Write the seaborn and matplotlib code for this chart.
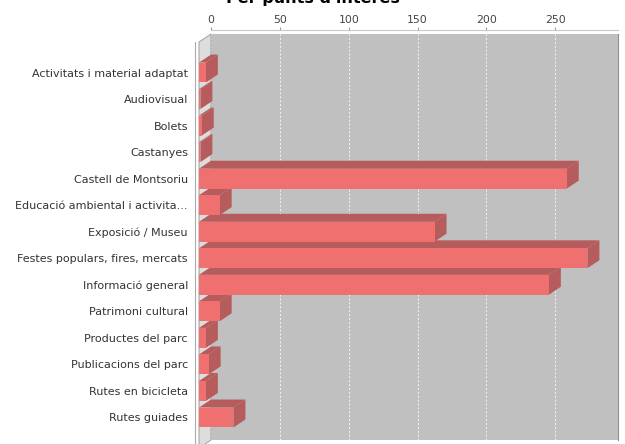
"""
Per punts d'interes - 3D style horizontal bar chart
"""

import numpy as np
import matplotlib
matplotlib.use('Agg')
import matplotlib.pyplot as plt
from matplotlib.patches import Polygon
from matplotlib.transforms import IdentityTransform
import seaborn as sns

sns.set_style("white")
plt.rcParams['font.family'] = ['DejaVu Sans']

# data
categories = [
    'Activitats i material adaptat',
    'Audiovisual',
    'Bolets',
    'Castanyes',
    'Castell de Montsoriu',
    'Educació ambiental i activita...',
    'Exposició / Museu',
    'Festes populars, fires, mercats',
    'Informació general',
    'Patrimoni cultural',
    'Productes del parc',
    'Publicacions del parc',
    'Rutes en bicicleta',
    'Rutes guiades',
]
counts = [5, 1, 2, 1, 267, 15, 171, 282, 254, 15, 5, 7, 5, 25]
x_ticks = [0, 50, 100, 150, 200, 250]
x_max = 295.5

title = "Per punts d'interès"

front_col = '#F07070'
dark_col = '#B65C5C'
wall_col = '#C0C0C0'
side_wall_col = '#DDDDDD'

DX, DY = 12, 8  # 3D depth in pixels

W, H = 625, 444
fig = plt.figure(figsize=(W / 100, H / 100), dpi=100)

# front plane (bars) and back plane (wall + axis)
f_left, f_right, f_top, f_bot = 199, 606, 42, 448
fpos = [f_left / W, (H - f_bot) / H, (f_right - f_left) / W, (f_bot - f_top) / H]
bpos = [(f_left + DX) / W, (H - f_bot + DY) / H, fpos[2], fpos[3]]

ax_back = fig.add_axes(bpos)
ax_back.set_facecolor(wall_col)
ax_back.set_xlim(0, x_max)
ax_back.set_ylim(0, 1)
ax_back.set_xticks(x_ticks)
ax_back.set_yticks([])
ax_back.xaxis.tick_top()
ax_back.tick_params(axis='x', length=2, pad=1.5, color='#999999',
                    labelsize=7.8, labelcolor='#444444')
ax_back.grid(axis='x', color='#F4F4F4', linestyle=(0, (2, 2)), linewidth=0.7)
for s in ['left', 'bottom']:
    ax_back.spines[s].set_visible(False)
ax_back.spines['top'].set_color('#C8C8C8')
ax_back.spines['top'].set_position(('outward', 3))
ax_back.spines['right'].set_color('#909090')

ax = fig.add_axes(fpos)
ax.patch.set_alpha(0)
sns.barplot(x=counts, y=categories, orient='h', color=front_col,
            saturation=1, width=0.75, linewidth=0, edgecolor='none', ax=ax)
ax.set_xlim(0, x_max)
ax.set_ylim(len(categories) - 1 + 1.15, -1.15)
ax.set_xticks([])
ax.set_xlabel('')
ax.set_ylabel('')
ax.tick_params(axis='y', length=3, pad=2, color='#999999',
               labelsize=8.0, labelcolor='#333333')
for s in ['top', 'right', 'bottom']:
    ax.spines[s].set_visible(False)
ax.spines['left'].set_position(('outward', 3))
ax.spines['left'].set_color('#AAAAAA')

# left side wall
ft = ax.transAxes.transform((0, 1))
fb = ax.transAxes.transform((0, 0))
wall = Polygon([ft, ft + [DX, DY], fb + [DX, DY], fb], closed=True,
               facecolor=side_wall_col, edgecolor='#A8A8A8', linewidth=0.8,
               transform=IdentityTransform(), clip_on=False, zorder=0.5)
ax.add_patch(wall)

# top and side faces of each bar
for bar in list(ax.patches):
    if bar is wall:
        continue
    x0, y0 = bar.get_x(), bar.get_y()
    w, h = bar.get_width(), bar.get_height()
    (px0, py_top) = ax.transData.transform((x0, y0))
    (px1, py_bot) = ax.transData.transform((x0 + w, y0 + h))
    top_y = max(py_top, py_bot)
    bot_y = min(py_top, py_bot)
    top_face = [(px0, top_y), (px1, top_y), (px1 + DX, top_y + DY), (px0 + DX, top_y + DY)]
    side_face = [(px1, top_y), (px1 + DX, top_y + DY), (px1 + DX, bot_y + DY), (px1, bot_y)]
    for verts in (top_face, side_face):
        ax.add_patch(Polygon(verts, closed=True, facecolor=dark_col, edgecolor='none',
                             transform=IdentityTransform(), clip_on=False, zorder=1.5))
    bar.set_zorder(2)

fig.text(0.5, 1 - 3 / H, title, ha='center', va='baseline',
         fontsize=11.5, fontweight='bold', color='black')

plt.savefig('out.png', dpi=100)
plt.close()
